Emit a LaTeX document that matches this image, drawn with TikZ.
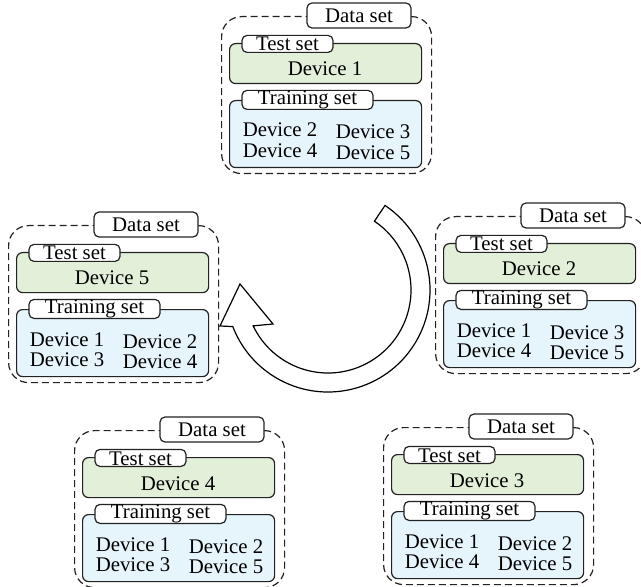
\documentclass[tikz,border=0pt]{standalone}
\usepackage{fontspec}
\setmainfont{Liberation Serif}
\definecolor{testfill}{HTML}{E2EFD9}
\definecolor{trainfill}{HTML}{E6F4FC}
\definecolor{edge}{HTML}{222222}
\tikzset{
  dsbox/.style={draw=edge, line width=0.6pt, dash pattern=on 3.5pt off 2pt,
    rounded corners=10pt, anchor=north west, minimum width=105pt,
    minimum height=78.5pt, inner sep=0pt},
  testbox/.style={draw=edge, line width=0.6pt, fill=testfill, rounded corners=3pt,
    anchor=north west, minimum width=96pt, minimum height=20pt, inner sep=0pt},
  trainbox/.style={draw=edge, line width=0.6pt, fill=trainfill, rounded corners=3pt,
    anchor=north west, minimum width=96pt, minimum height=33.5pt, inner sep=0pt},
  tabel/.style={draw=edge, line width=0.6pt, fill=white, rounded corners=2.5pt,
    inner sep=0pt, font=\fontsize{10.4}{12}\selectfont},
  devtext/.style={anchor=base, inner sep=0pt, font=\fontsize{10.4}{12}\selectfont},
  arrowshape/.style={draw=black, fill=white, line width=0.6pt, line join=miter},
}
\newcommand\dsgroup[7]{%
\begin{scope}[shift={#2}]
\node[dsbox] (#1-outer) at (-8,-27) {};
\node[testbox] (#1-test) at (0,0) {};
\node[trainbox] (#1-train) at (0,57) {};
\node[tabel, minimum width=52pt, minimum height=12.5pt] (#1-datalbl) at (130,-27.5) {Data set};
\node[tabel, anchor=south, minimum width=45.5pt, text height=7.8pt, text depth=0.7pt] (#1-testlbl) at (58.5,10) {Test set};
\node[tabel, anchor=south, minimum width=65.5pt, text height=7pt, text depth=2.5pt] (#1-trainlbl) at (78.5,67) {Training set};
\node[devtext] (#1-t) at (96,33) {#3};
\node[devtext] (#1-a) at (51,94) {#4};
\node[devtext] (#1-b) at (144,96) {#5};
\node[devtext] (#1-c) at (51,114.5) {#6};
\node[devtext] (#1-d) at (144,116.5) {#7};
\end{scope}}
\begin{document}
\begin{tikzpicture}[x=0.5pt,y=-0.5pt]
\useasboundingbox (0,0) rectangle (641,587);
\dsgroup{top}{(229,43)}{Device 1}{Device 2}{Device 3}{Device 4}{Device 5}
\dsgroup{lft}{(16,252)}{Device 5}{Device 1}{Device 2}{Device 3}{Device 4}
\dsgroup{rgt}{(443,243)}{Device 2}{Device 1}{Device 3}{Device 4}{Device 5}
\dsgroup{bl}{(82,457)}{Device 4}{Device 1}{Device 2}{Device 3}{Device 5}
\dsgroup{br}{(391,454)}{Device 3}{Device 1}{Device 2}{Device 4}{Device 5}
\begin{scope}[shift={(328,290)}, yscale=-1]
\draw[arrowshape] (56:102) arc[start angle=56, end angle=-159, radius=102]
  -- (-108,-36) -- (-88,6) -- (-55,-34) -- (-154.4:83)
  arc[start angle=-154.4, end angle=56, radius=83] -- cycle;
\end{scope}
\end{tikzpicture}
\end{document}
